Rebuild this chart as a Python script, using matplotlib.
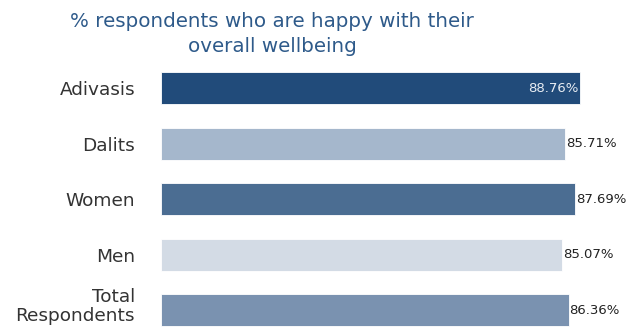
import matplotlib.pyplot as plt
import matplotlib.transforms as mtransforms

plt.rcParams['font.family'] = ['DejaVu Sans']

groups = ['Adivasis', 'Dalits', 'Women', 'Men', 'Total\nRespondents']
happy_pct = [88.76, 85.71, 87.69, 85.07, 86.36]
bar_colors = ['#214b7a', '#a5b7cc', '#4b6d92', '#d3dbe5', '#7a92b0']

fig = plt.figure(figsize=(6.31, 3.32), dpi=100)
ax = fig.add_axes([161 / 631, 0, 470 / 631, 272 / 332])

ypos = list(range(len(groups)))
bars = ax.barh(ypos, happy_pct, height=0.58, color=bar_colors,
               edgecolor='white', linewidth=0.6)

ax.set_xlim(0, 99.6)
ax.set_ylim(4.39, -0.505)
ax.set_xticks([])
ax.set_yticks([])
for s in ax.spines.values():
    s.set_visible(False)

# category names to the left of the bars
trans = mtransforms.blended_transform_factory(ax.transAxes, ax.transData)
for i, name in enumerate(groups):
    y = i - 0.07 if '\n' in name else i + 0.04
    ax.text(-26 / 470, y, name, transform=trans, ha='right', va='center',
            fontsize=13.3, color='#333333', linespacing=1.08)

# value labels: inside the first bar, just past the end for the rest
for i, (b, v) in enumerate(zip(bars, happy_pct)):
    y = b.get_y() + b.get_height() / 2
    if i == 0:
        ax.text(v - 0.3, y, f'{v:.2f}%', ha='right', va='center',
                fontsize=9.5, color='#e8edf3')
    else:
        ax.text(v + 0.2, y, f'{v:.2f}%', ha='left', va='center',
                fontsize=9.5, color='#222222')

fig.text(272 / 631, 1 - 34 / 332,
         '% respondents who are happy with their\noverall wellbeing',
         ha='center', va='center', fontsize=14.3, color='#2e5a8a',
         linespacing=1.45)

fig.savefig('out.png', dpi=100)
